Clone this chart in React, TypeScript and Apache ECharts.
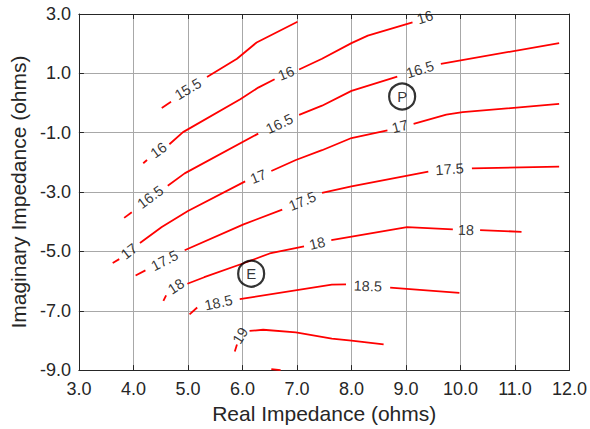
import React, { useEffect, useRef } from "react";
import * as echarts from "echarts";

// Contour lines: each level is a list of segments (broken where the labels sit)
const c155 = [
  [[4.52, -0.17], [4.69, 0.04]],
  [[5.35, 0.88], [5.9, 1.49], [6.26, 2.04], [7.01, 2.74]],
];
const c16 = [
  [[4.18, -2.03], [4.25, -1.92]],
  [[4.66, -1.39], [4.91, -0.98], [5.96, 0.13], [6.29, 0.52], [6.59, 0.8]],
  [[7.04, 1.13], [7.46, 1.49], [8.0, 2.02], [8.3, 2.27], [9.12, 2.72]],
];
const c165 = [
  [[3.83, -3.87], [3.97, -3.68]],
  [[4.63, -2.79], [4.94, -2.37], [6.29, -1.03]],
  [[7.04, -0.4], [7.46, -0.09], [8.0, 0.41], [8.84, 0.89]],
  [[9.64, 1.32], [11.81, 2.02]],
];
const c17 = [
  [[3.62, -5.39], [3.74, -5.26]],
  [[4.12, -4.72], [4.52, -4.18], [5.0, -3.64], [6.05, -2.64]],
  [[6.53, -2.29], [6.98, -1.92], [7.46, -1.59], [8.0, -1.18], [8.66, -0.92]],
  [[9.14, -0.7], [9.74, -0.39], [10.04, -0.31], [11.81, -0.03]],
];
const c175 = [
  [[4.04, -5.81], [4.22, -5.64]],
  [[4.94, -4.96], [6.02, -4.09], [6.73, -3.59]],
  [[7.46, -3.03], [8.0, -2.81], [9.41, -2.31]],
  [[10.21, -2.2], [11.81, -2.14]],
];
const c18 = [
  [[4.55, -6.67], [4.6, -6.48]],
  [[4.99, -6.09], [5.3, -5.87], [6.02, -5.4], [6.5, -5.07], [7.13, -4.83]],
  [[7.63, -4.62], [9.02, -4.18], [9.86, -4.26]],
  [[10.36, -4.28], [11.12, -4.34]],
];
const c185 = [
  [[5.03, -7.12], [5.17, -6.89]],
  [[5.95, -6.61], [7.64, -6.12], [7.9, -6.11]],
  [[8.71, -6.22], [9.98, -6.4]],
];
const c19 = [
  [[5.86, -8.37], [5.9, -8.14]],
  [[6.13, -7.68], [6.38, -7.64], [6.98, -7.73], [7.64, -7.94], [8.0, -8.01], [8.59, -8.13]],
];
const c195 = [[[6.53, -8.97], [6.7, -9.0]]];

const contours = [c155, c16, c165, c17, c175, c18, c185, c19, c195];

// Contour labels: x, y, text, rotation (deg)
const labelX = [5.0, 4.46, 6.8, 9.35, 4.31, 6.68, 9.26, 3.92, 6.29, 8.89, 4.57, 7.1, 9.8, 4.78, 7.37, 10.1, 5.56, 8.3, 5.96];
const labelY = [0.47, -1.59, 1.0, 2.89, -3.17, -0.7, 1.13, -5.0, -2.48, -0.79, -5.31, -3.31, -2.23, -6.18, -4.73, -4.28, -6.73, -6.17, -7.84];
const labelText = ["15.5", "16", "16", "16", "16.5", "16.5", "16.5", "17", "17", "17", "17.5", "17.5", "17.5", "18", "18", "18", "18.5", "18.5", "19"];
const labelRot = [31, 36, 22, 17, 37, 25, 17, 38, 22, 14, 27, 22, 4, 33, 13, -2, 12, -2, 58];

// Marked points
const markerNames = ["P", "E"];
const markerX = [8.93, 6.16];
const markerY = [0.22, -5.75];

const FONT = 'Arial, "Liberation Sans", sans-serif';
const INK = "#262626";

export default function App() {
  const ref = useRef<HTMLDivElement>(null);
  useEffect(() => {
    const chart = echarts.init(ref.current!, null, { renderer: "svg" });
    const series: any[] = [];
    contours.forEach((level) => {
      level.forEach((seg) => {
        series.push({
          type: "line",
          data: seg,
          showSymbol: false,
          symbol: "none",
          silent: true,
          clip: true,
          lineStyle: { color: "#ff0000", width: 1.8 },
          z: 3,
        });
      });
    });
    series.push({
      type: "scatter",
      symbolSize: 0,
      silent: true,
      z: 4,
      data: labelX.map((x, i) => ({
        value: [x, labelY[i]],
        label: {
          show: true,
          position: "inside",
          formatter: labelText[i],
          rotate: labelRot[i],
          fontSize: 14.5,
          fontFamily: FONT,
          color: "#000000",
          textBorderWidth: 0,
        },
      })),
    });
    series.push({
      type: "scatter",
      symbol: "circle",
      symbolSize: 26,
      silent: true,
      z: 5,
      itemStyle: { color: "rgba(255,255,255,0)", borderColor: "#000", borderWidth: 2.2 },
      label: {
        show: true,
        position: "inside",
        formatter: (p: any) => markerNames[p.dataIndex],
        fontSize: 15,
        fontFamily: FONT,
        color: "#000000",
        textBorderWidth: 0,
      },
      data: markerX.map((x, i) => [x, markerY[i]]),
    });

    const axisLine = { show: true, onZero: false, lineStyle: { color: INK, width: 1 } };
    const axisTick = { show: true, inside: true, length: 5, lineStyle: { color: INK } };
    const splitLine = { show: true, lineStyle: { color: "#a8a8a8", width: 1 } };

    chart.setOption({
      animation: false,
      backgroundColor: "#ffffff",
      grid: { left: 72, right: 18, top: 14, bottom: 55, containLabel: false },
      xAxis: [
        {
          type: "value",
          min: 3,
          max: 12,
          interval: 1,
          position: "bottom",
          axisLine,
          axisTick,
          splitLine,
          axisLabel: {
            formatter: (v: number) => v.toFixed(1),
            fontSize: 18,
            fontFamily: FONT,
            color: INK,
            margin: 10,
          },
          name: "Real Impedance (ohms)",
          nameLocation: "middle",
          nameGap: 32,
          nameTextStyle: { fontSize: 21, fontFamily: FONT, color: INK },
        },
        {
          type: "value",
          min: 3,
          max: 12,
          interval: 1,
          position: "top",
          axisLine,
          axisTick,
          splitLine: { show: false },
          axisLabel: { show: false },
        },
      ],
      yAxis: [
        {
          type: "value",
          min: -9,
          max: 3,
          interval: 2,
          position: "left",
          axisLine,
          axisTick,
          splitLine,
          axisLabel: {
            formatter: (v: number) => v.toFixed(1),
            fontSize: 18,
            fontFamily: FONT,
            color: INK,
            margin: 8,
          },
          name: "Imaginary Impedance (ohms)",
          nameLocation: "middle",
          nameGap: 45,
          nameTextStyle: { fontSize: 21, fontFamily: FONT, color: INK },
        },
        {
          type: "value",
          min: -9,
          max: 3,
          interval: 2,
          position: "right",
          axisLine,
          axisTick,
          splitLine: { show: false },
          axisLabel: { show: false },
        },
      ],
      series,
    });
    return () => chart.dispose();
  }, []);
  return (
    <div
      ref={ref}
      style={{ position: "fixed", left: 0, top: 0, width: 590, height: 429, background: "#fff" }}
    />
  );
}
